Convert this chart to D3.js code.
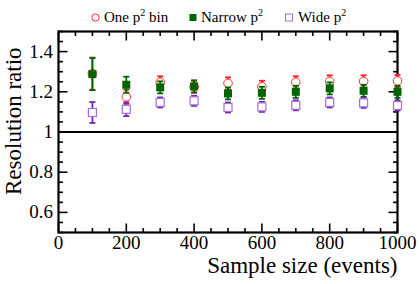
<!DOCTYPE html>
<html>
<head>
<meta charset="utf-8">
<script src="https://cdn.jsdelivr.net/npm/d3@7"></script>
<style>
    body { margin: 0; background: #fff; }
</style>
</head>
<body>
<svg id="chart" width="419" height="284"></svg>
<script>
(function() {
    'use strict';

    var FONT = 'Liberation Serif';

    // sample sizes (events)
    var sizes = [100, 200, 300, 400, 500, 600, 700, 800, 900, 1000];

    // one p^2 bin
    var oneVal = [1.29, 1.175, 1.247, 1.225, 1.242, 1.225, 1.247, 1.252, 1.252, 1.254];
    var oneErr = [0.08, 0.035, 0.03, 0.03, 0.03, 0.03, 0.03, 0.03, 0.03, 0.03];

    // narrow p^2
    var narrowVal = [1.288, 1.235, 1.222, 1.227, 1.192, 1.195, 1.2, 1.217, 1.205, 1.2];
    var narrowErr = [0.08, 0.04, 0.03, 0.03, 0.03, 0.03, 0.03, 0.03, 0.03, 0.03];

    // wide p^2
    var wideVal = [1.097, 1.113, 1.147, 1.155, 1.122, 1.125, 1.133, 1.147, 1.145, 1.132];
    var wideErr = [0.052, 0.034, 0.025, 0.025, 0.025, 0.025, 0.025, 0.025, 0.025, 0.025];

    var xTicks = [0, 200, 400, 600, 800, 1000];
    var yTicks = [0.6, 0.8, 1, 1.2, 1.4];

    var svg = d3.select('#chart');
    var L = 58.5, R = 397.5, T = 31.5, B = 232.5;

    var x = d3.scaleLinear().domain([0, 1000]).range([L, R]);
    var y = d3.scaleLinear().domain([0.5, 1.5]).range([B, T]);

    /******************************************************************
        ticks on all four sides, pointing inward
     ******************************************************************/
    var xMinor = d3.range(0, 1001, 50);
    var yMinor = d3.range(0.5, 1.5001, 0.05);

    function tickLen(isMajor) { return isMajor ? 9 : 4.5; }
    function isMajorX(v) { return Math.abs(v % 200) < 1e-6; }
    function isMajorY(v) { return yTicks.some(function(t) { return Math.abs(t - v) < 1e-6; }); }

    var tk = svg.append('g').attr('stroke', '#000').attr('stroke-width', 1.6);
    xMinor.forEach(function(v) {
        var l = tickLen(isMajorX(v));
        tk.append('line').attr('x1', x(v)).attr('x2', x(v)).attr('y1', B).attr('y2', B - l);
        tk.append('line').attr('x1', x(v)).attr('x2', x(v)).attr('y1', T).attr('y2', T + l);
    });
    yMinor.forEach(function(v) {
        var l = tickLen(isMajorY(v));
        tk.append('line').attr('x1', L).attr('x2', L + l).attr('y1', y(v)).attr('y2', y(v));
        tk.append('line').attr('x1', R).attr('x2', R - l).attr('y1', y(v)).attr('y2', y(v));
    });

    // reference line at 1
    svg.append('line')
        .attr('x1', L).attr('x2', R)
        .attr('y1', y(1)).attr('y2', y(1))
        .attr('stroke', '#000').attr('stroke-width', 2);

    svg.append('rect')
        .attr('x', L).attr('y', T)
        .attr('width', R - L).attr('height', B - T)
        .attr('fill', 'none').attr('stroke', '#000').attr('stroke-width', 2.2);

    // tick labels
    svg.append('g').selectAll('text').data(xTicks).enter().append('text')
        .attr('x', function(d) { return x(d); })
        .attr('y', 249)
        .attr('text-anchor', 'middle')
        .attr('font-family', FONT)
        .attr('font-size', 19)
        .text(function(d) { return d; });

    svg.append('g').selectAll('text').data(yTicks).enter().append('text')
        .attr('x', 53)
        .attr('y', function(d) { return y(d) + 6; })
        .attr('text-anchor', 'end')
        .attr('font-family', FONT)
        .attr('font-size', 19)
        .text(function(d) { return d; });

    // axis titles
    svg.append('text')
        .attr('x', R)
        .attr('y', 273)
        .attr('text-anchor', 'end')
        .attr('font-family', FONT)
        .attr('font-size', 23)
        .text('Sample size (events)');

    svg.append('text')
        .attr('transform', 'translate(21,' + 195 + ') rotate(-90)')
        .attr('text-anchor', 'start')
        .attr('font-family', FONT)
        .attr('font-size', 23)
        .text('Resolution ratio');

    /******************************************************************
        series
     ******************************************************************/
    function errorBars(vals, errs, color) {
        var g = svg.append('g').attr('stroke', color).attr('stroke-width', 1.8);
        sizes.forEach(function(s, i) {
            var cx = x(s), lo = y(vals[i] - errs[i]), hi = y(vals[i] + errs[i]);
            g.append('line').attr('x1', cx).attr('x2', cx).attr('y1', lo).attr('y2', hi);
            g.append('line').attr('x1', cx - 3).attr('x2', cx + 3).attr('y1', lo).attr('y2', lo);
            g.append('line').attr('x1', cx - 3).attr('x2', cx + 3).attr('y1', hi).attr('y2', hi);
        });
    }

    errorBars(oneVal, oneErr, '#ff2020');
    svg.append('g').selectAll('circle').data(sizes).enter().append('circle')
        .attr('cx', function(d) { return x(d); })
        .attr('cy', function(d, i) { return y(oneVal[i]); })
        .attr('r', 4.3)
        .attr('fill', '#fff')
        .attr('stroke', '#ff3030')
        .attr('stroke-width', 1);

    errorBars(narrowVal, narrowErr, '#006400');
    svg.append('g').selectAll('rect').data(sizes).enter().append('rect')
        .attr('x', function(d) { return x(d) - 4; })
        .attr('y', function(d, i) { return y(narrowVal[i]) - 4; })
        .attr('width', 8).attr('height', 8)
        .attr('fill', '#006400');

    errorBars(wideVal, wideErr, '#7a20c0');
    svg.append('g').selectAll('rect').data(sizes).enter().append('rect')
        .attr('x', function(d) { return x(d) - 4; })
        .attr('y', function(d, i) { return y(wideVal[i]) - 4; })
        .attr('width', 8).attr('height', 8)
        .attr('fill', '#fff')
        .attr('stroke', '#a070d8')
        .attr('stroke-width', 1.2);

    /******************************************************************
        legend
     ******************************************************************/
    var leg = svg.append('g').attr('font-family', FONT).attr('font-size', 15);
    leg.append('circle').attr('cx', 95.5).attr('cy', 17.5).attr('r', 3.6)
        .attr('fill', '#fff').attr('stroke', '#ff3030').attr('stroke-width', 1);
    leg.append('text').attr('x', 104).attr('y', 22)
        .html('One p<tspan dy="-6" font-size="10">2</tspan><tspan dy="6"> bin</tspan>');

    leg.append('rect').attr('x', 189.5).attr('y', 14).attr('width', 7).attr('height', 7)
        .attr('fill', '#006400');
    leg.append('text').attr('x', 201).attr('y', 22)
        .html('Narrow p<tspan dy="-6" font-size="10">2</tspan>');

    leg.append('rect').attr('x', 285.5).attr('y', 14).attr('width', 7).attr('height', 7)
        .attr('fill', '#fff').attr('stroke', '#a070d8').attr('stroke-width', 1);
    leg.append('text').attr('x', 298).attr('y', 22)
        .html('Wide p<tspan dy="-6" font-size="10">2</tspan>');
})();
</script>
</body>
</html>
